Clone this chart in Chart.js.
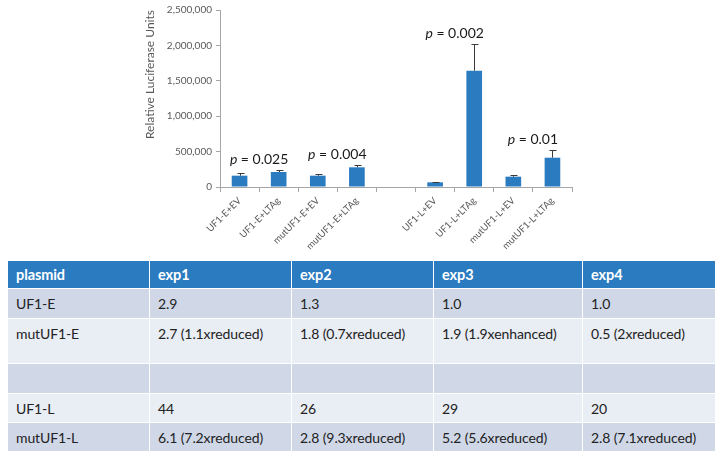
<!DOCTYPE html>
<html>
<head>
<meta charset="utf-8">
<script src="https://cdn.jsdelivr.net/npm/chart.js@4.4.0/dist/chart.umd.min.js"></script>
<style>
  body { margin: 0; background: #fff; width: 723px; height: 460px; position: relative; overflow: hidden; font-family: Lato, "Open Sans", sans-serif; }
  #chartBox { position: absolute; left: 143px; top: 0; width: 447px; height: 252px; }
  table { position: absolute; left: 7px; top: 260px; border-collapse: collapse; font-size: 14px; letter-spacing: -0.1px; color: #222; }
  td, th { border: 1px solid #fff; padding: 6px 8px 0 8px; text-align: left; vertical-align: top; box-sizing: border-box; }
  th { background: #2a7bc0; color: #fff; font-weight: bold; height: 28px; padding-top: 5px; font-size: 14.5px; }
  tr.dark td { background: #d0d8e8; }
  tr.light td { background: #e9edf4; }
</style>
</head>
<body>
<div id="chartBox"><canvas id="lucChart"></canvas></div>
<table id="foldTable"></table>
<script>
  // bar chart data
  const categories = ["UF1-E+EV", "UF1-E+LTAg", "mutUF1-E+EV", "mutUF1-E+LTAg", "",
                      "UF1-L+EV", "UF1-L+LTAg", "mutUF1-L+EV", "mutUF1-L+LTAg"];
  const luciferase = [160000, 212000, 160000, 278000, null, 66000, 1643000, 146000, 414000];
  const errorUp = [33000, 28000, 28000, 28000, null, 8000, 372000, 24000, 104000];
  const yTicks = [0, 500000, 1000000, 1500000, 2000000, 2500000];
  const pValues = ["0.025", "0.004", "0.002", "0.01"];
  const pPairs = [[0, 1], [2, 3], [5, 6], [7, 8]];

  // table data
  const tableHeader = ["plasmid", "exp1", "exp2", "exp3", "exp4"];
  const tableRows = [
    ["UF1-E", "2.9", "1.3", "1.0", "1.0"],
    ["mutUF1-E", "2.7 (1.1xreduced)", "1.8 (0.7xreduced)", "1.9 (1.9xenhanced)", "0.5 (2xreduced)"],
    ["", "", "", "", ""],
    ["UF1-L", "44", "26", "29", "20"],
    ["mutUF1-L", "6.1 (7.2xreduced)", "2.8 (9.3xreduced)", "5.2 (5.6xreduced)", "2.8 (7.1xreduced)"]
  ];

  // build the table
  const colWidths = [142, 142, 142, 149, 133];
  const rowHeights = [30, 45, 30, 29, 29];
  const tbl = document.getElementById("foldTable");
  let html = "<tr>" + tableHeader.map((h, i) => `<th style="width:${colWidths[i]}px">${h}</th>`).join("") + "</tr>";
  tableRows.forEach((r, ri) => {
    html += `<tr class="${ri % 2 === 0 ? "dark" : "light"}">` +
      r.map(c => `<td style="height:${rowHeights[ri]}px">${c}</td>`).join("") + "</tr>";
  });
  tbl.innerHTML = html;

  // error bars (upper only)
  const errorBarPlugin = {
    id: "errorBars",
    afterDatasetsDraw(chart) {
      const { ctx, scales: { x, y } } = chart;
      ctx.save();
      ctx.strokeStyle = "#3a3a3a";
      ctx.lineWidth = 1;
      luciferase.forEach((v, i) => {
        if (v == null) return;
        const px = Math.round(x.getPixelForValue(i)) + 0.5;
        const y0 = y.getPixelForValue(v);
        const y1 = Math.round(y.getPixelForValue(v + errorUp[i])) + 0.5;
        ctx.beginPath();
        ctx.moveTo(px, y0);
        ctx.lineTo(px, y1);
        ctx.moveTo(px - 3, y1);
        ctx.lineTo(px + 4, y1);
        ctx.stroke();
      });
      ctx.restore();
    }
  };

  // p-value labels above each pair
  const pLabelPlugin = {
    id: "pLabels",
    afterDatasetsDraw(chart) {
      const { ctx, scales: { x, y } } = chart;
      ctx.save();
      ctx.fillStyle = "#1a1a1a";
      ctx.textBaseline = "middle";
      pPairs.forEach(([a, b], k) => {
        const cx = (x.getPixelForValue(a) + x.getPixelForValue(b)) / 2;
        const top = Math.min(y.getPixelForValue(luciferase[a] + errorUp[a]),
                             y.getPixelForValue(luciferase[b] + errorUp[b]));
        const cy = top - 11;
        const italic = "italic 14px Lato, sans-serif";
        const normal = "14px Lato, sans-serif";
        const rest = " = " + pValues[k];
        ctx.font = italic;
        const w1 = ctx.measureText("p").width;
        ctx.font = normal;
        const w2 = ctx.measureText(rest).width;
        let sx = cx - (w1 + w2) / 2;
        ctx.textAlign = "left";
        ctx.font = italic;
        ctx.fillText("p", sx, cy);
        ctx.font = normal;
        ctx.fillText(rest, sx + w1, cy);
      });
      ctx.restore();
    }
  };

  const tickColor = "#595959";
  const axisColor = "#a6a6a6";

  new Chart(document.getElementById("lucChart"), {
    type: "bar",
    data: {
      labels: categories,
      datasets: [{
        data: luciferase,
        backgroundColor: "#2a7bc0",
        barPercentage: 0.4,
        categoryPercentage: 1.0
      }]
    },
    options: {
      responsive: true,
      maintainAspectRatio: false,
      animation: false,
      layout: { padding: { top: 10, right: 18, bottom: 0, left: 0 } },
      plugins: {
        legend: { display: false },
        tooltip: { enabled: false }
      },
      scales: {
        x: {
          afterFit(scale) { scale.height = 65; },
          grid: { display: true, offset: true, drawOnChartArea: false, tickLength: 5, color: axisColor },
          border: { color: axisColor },
          ticks: {
            color: tickColor,
            font: { family: "Lato", size: 9.5 },
            maxRotation: 45,
            minRotation: 45,
            autoSkip: false
          }
        },
        y: {
          min: 0,
          max: 2500000,
          afterFit(scale) { scale.width = 77; },
          afterBuildTicks(scale) { scale.ticks = yTicks.map(v => ({ value: v })); },
          grid: { display: true, drawOnChartArea: false, tickLength: 4, color: axisColor },
          border: { color: axisColor },
          title: {
            display: true,
            text: "Relative Luciferase Units",
            align: "end",
            color: tickColor,
            font: { family: "Lato", size: 12 },
            padding: { top: 0, bottom: 4 }
          },
          ticks: {
            color: tickColor,
            font: { family: "Lato", size: 10 },
            padding: 4,
            callback: v => v.toLocaleString("en-US")
          }
        }
      }
    },
    plugins: [errorBarPlugin, pLabelPlugin]
  });
</script>
</body>
</html>
